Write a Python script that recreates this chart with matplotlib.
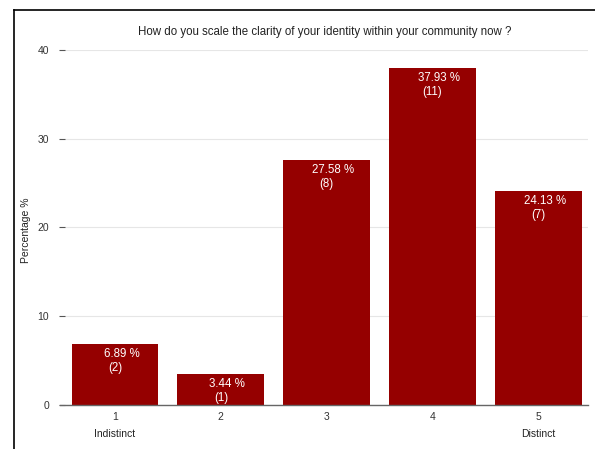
import matplotlib
matplotlib.use("Agg")
import matplotlib.pyplot as plt
from matplotlib.lines import Line2D

categories = [1, 2, 3, 4, 5]
percentages = [6.89, 3.44, 27.58, 37.93, 24.13]
counts = [2, 1, 8, 11, 7]
y_ticks = [0, 10, 20, 30, 40]
end_labels = {1: "Indistinct", 5: "Distinct"}

plt.rcParams['font.family'] = ['Liberation Sans', 'DejaVu Sans']

W, H = 595, 449
fig = plt.figure(figsize=(W / 100, H / 100), dpi=100)
fig.patch.set_facecolor("white")

ax = fig.add_axes([65 / W, 1 - 405 / H, (588 - 65) / W, (405 - 50) / H])
ax.set_xlim(0.527, 5.47)
ax.set_ylim(0, 40)

bar_color = "#950000"
ax.bar(categories, percentages, width=0.82, color=bar_color, zorder=3)

for x, p, c in zip(categories, percentages, counts):
    ax.text(x + 0.06, p - 0.45, f"{p:.2f} %", ha="center", va="top",
            color="white", fontsize=8.3, zorder=4)
    ax.text(x, p - 2.0, f"({c})", ha="center", va="top",
            color="white", fontsize=8.3, zorder=4)

ax.set_yticks(y_ticks)
ax.set_yticklabels([str(v) for v in y_ticks], fontsize=7.5, color="#333333")
ax.set_xticks(categories)
ax.set_xticklabels([str(v) for v in categories], fontsize=7.5, color="#333333")
ax.tick_params(axis="y", length=4.5, width=0.8, color="#555555", pad=7)
ax.tick_params(axis="x", length=0, pad=5)

ax.yaxis.grid(True, color="#e6e6e6", linewidth=0.8, zorder=0)
for s in ("top", "right", "left", "bottom"):
    ax.spines[s].set_visible(False)

# baseline reaching slightly left of the plotting area
fig.add_artist(Line2D([60 / W, 588 / W], [1 - 405 / H, 1 - 405 / H],
                      transform=fig.transFigure, color="#666666", linewidth=1.0))

fig.text(26 / W, 1 - 230 / H, "Percentage %", rotation=90, ha="center", va="center",
         fontsize=7.5, color="#222222")
fig.text(325 / W, 1 - 32 / H,
         "How do you scale the clarity of your identity within your community now ?",
         ha="center", va="center", fontsize=8.3, color="#222222")

for x, label in end_labels.items():
    ax.annotate(label, xy=(x, 0), xycoords="data", xytext=(0, -20.7),
                textcoords="offset points", ha="center", va="center",
                fontsize=7.5, color="#222222")

# frame lines along the left and top edges
fig.add_artist(Line2D([14 / W, 14 / W], [0, 1 - 10 / H], transform=fig.transFigure,
                      color="black", linewidth=1.2))
fig.add_artist(Line2D([14 / W, 1], [1 - 10 / H, 1 - 10 / H], transform=fig.transFigure,
                      color="black", linewidth=1.2))

fig.savefig("out.png", dpi=100)
